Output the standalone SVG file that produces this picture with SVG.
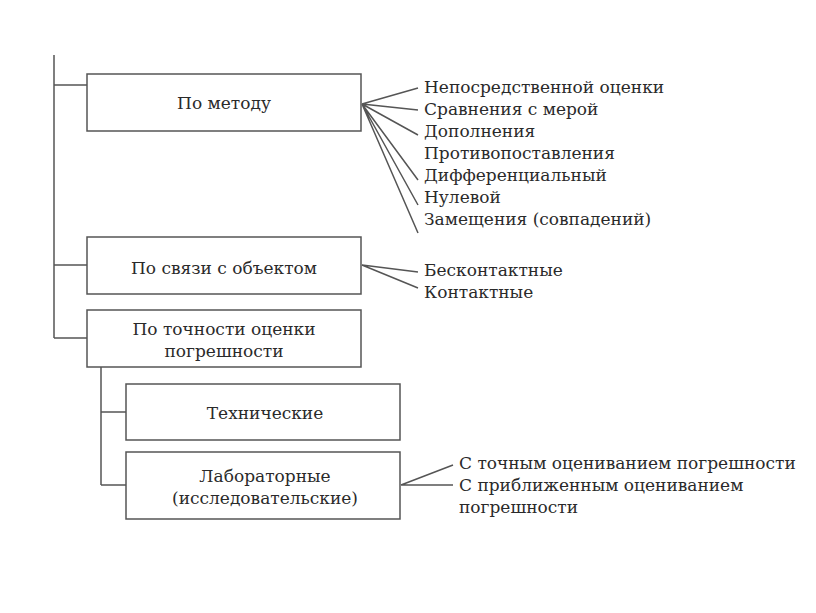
<svg xmlns="http://www.w3.org/2000/svg" width="816" height="613" viewBox="0 0 816 613">
<style>
.b{fill:#fff;stroke:#555;stroke-width:1.5}
.c{fill:none;stroke:#555;stroke-width:1.5}
text{font-family:"DejaVu Serif","Liberation Serif",serif;font-size:17px;fill:#2a2a2a}
.m{text-anchor:middle}
</style>
<rect width="816" height="613" fill="#fff"/>
<g id="connectors">
<path class="c" d="M54 55V338M54 85H87M54 265H87M54 338H87M101 367V485M101 412H126M101 485H126"/>
<path class="c" d="M362 104L418 88M362 104L418 110M362 104L418 135M362 104L418 180M362 104L418 205M362 104L418 233"/>
<path class="c" d="M362 265L418 272M362 265L418 288"/>
<path class="c" d="M401 485L453 465M401 485L453 485"/>
</g>
<g id="n1"><rect class="b" x="87" y="74" width="274" height="57"/><text class="m" x="224" y="109">По методу</text></g>
<g id="n2"><rect class="b" x="87" y="237" width="274" height="57"/><text class="m" x="224" y="274">По связи с объектом</text></g>
<g id="n3"><rect class="b" x="87" y="310" width="274" height="57"/><text class="m" x="224" y="335">По точности оценки</text><text class="m" x="224" y="357">погрешности</text></g>
<g id="n4"><rect class="b" x="126" y="384" width="274" height="56"/><text class="m" x="265" y="419">Технические</text></g>
<g id="n5"><rect class="b" x="126" y="452" width="274" height="67"/><text class="m" x="265" y="482">Лабораторные</text><text class="m" x="265" y="504">(исследовательские)</text></g>
<g id="l1">
<text x="424" y="93">Непосредственной оценки</text>
<text x="424" y="115">Сравнения с мерой</text>
<text x="424" y="137">Дополнения</text>
<text x="424" y="159">Противопоставления</text>
<text x="424" y="181">Дифференциальный</text>
<text x="424" y="203">Нулевой</text>
<text x="424" y="225">Замещения (совпадений)</text>
</g>
<g id="l2">
<text x="424" y="276">Бесконтактные</text>
<text x="424" y="298">Контактные</text>
</g>
<g id="l3">
<text x="459" y="469">С точным оцениванием погрешности</text>
<text x="459" y="491">С приближенным оцениванием</text>
<text x="459" y="513">погрешности</text>
</g>
</svg>
